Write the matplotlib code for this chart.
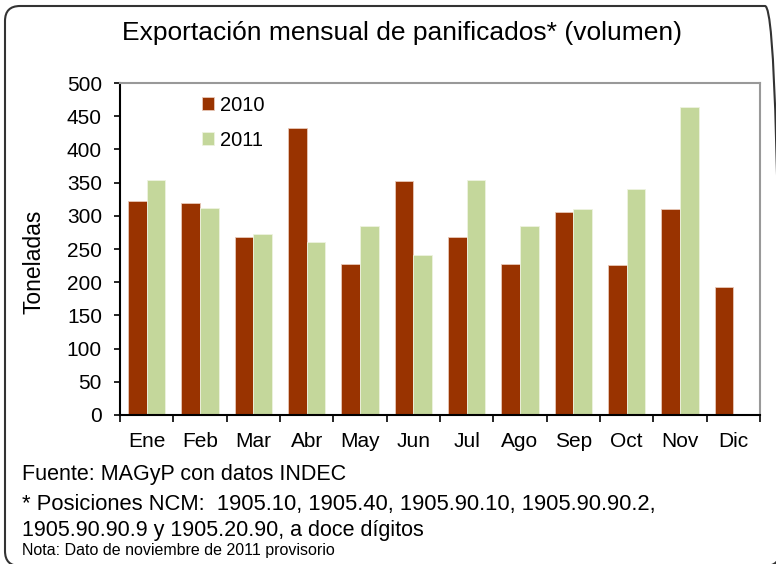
import numpy as np
import matplotlib.pyplot as plt
from matplotlib.patches import FancyBboxPatch

plt.rcParams['font.family'] = ['Liberation Sans', 'DejaVu Sans']

# datos (toneladas)
meses = ["Ene", "Feb", "Mar", "Abr", "May", "Jun", "Jul", "Ago", "Sep", "Oct", "Nov", "Dic"]
v2010 = [322, 320, 268, 433, 228, 352, 268, 228, 306, 226, 310, 193]
v2011 = [354, 312, 273, 260, 285, 241, 354, 284, 310, 341, 464, np.nan]
yticks = [0, 50, 100, 150, 200, 250, 300, 350, 400, 450, 500]

fig = plt.figure(figsize=(7.76, 5.64), dpi=100)
ax = fig.add_axes([0.1546, 0.2642, 0.8248, 0.5886])

x = np.arange(len(meses))
w = 0.35
ax.bar(x - w/2, v2010, w, color="#993300", edgecolor="#E8C8B8", linewidth=0.6, label="2010")
ax.bar(x + w/2, v2011, w, color="#C4D79B", edgecolor="#EEF3E0", linewidth=0.6, label="2011")

ax.set_xlim(-0.5, len(meses) - 0.5)
ax.set_ylim(0, 500)
ax.set_yticks(yticks)
ax.tick_params(axis="y", labelsize=15, length=4.5, width=1.2, direction="out", pad=8.5)
ax.set_xticks(x)
ax.set_xticklabels(meses)
ax.set_xticks(np.arange(len(meses) + 1) - 0.5, minor=True)
ax.tick_params(axis="x", which="major", length=0, labelsize=15, pad=12)
ax.tick_params(axis="x", which="minor", length=5, width=1.2, direction="out")

ax.spines["left"].set_linewidth(1.5)
ax.spines["bottom"].set_linewidth(1.5)
for s in ["top", "right"]:
    ax.spines[s].set_color("#999999")
    ax.spines[s].set_linewidth(1.5)

ax.set_ylabel("Toneladas", fontsize=16.5)
ax.yaxis.set_label_coords(-0.117, 0.46)

ax.legend(loc="upper left", bbox_to_anchor=(0.1, 1.016), frameon=False, fontsize=14.5,
          handlelength=0.6, handleheight=0.6, handletextpad=0.3, labelspacing=0.8)

fig.text(0.518, 0.942, "Exportación mensual de panificados* (volumen)", ha="center", va="center", fontsize=19)

fig.text(0.028, 0.158, "Fuente: MAGyP con datos INDEC", fontsize=15.5, va="center")
fig.text(0.028, 0.106, "* Posiciones NCM:  1905.10, 1905.40, 1905.90.10, 1905.90.90.2,", fontsize=15.8, va="center")
fig.text(0.028, 0.06, "1905.90.90.9 y 1905.20.90, a doce dígitos", fontsize=15.5, va="center")
fig.text(0.028, 0.024, "Nota: Dato de noviembre de 2011 provisorio", fontsize=11.5, va="center")

# marco redondeado
marco = FancyBboxPatch((0.05, -0.02), 7.75, 5.6, boxstyle="round,pad=0,rounding_size=0.15",
                       transform=fig.dpi_scale_trans, facecolor="none", edgecolor="#333333", linewidth=1.5)
fig.patches.append(marco)

fig.savefig("out.png", dpi=100)
